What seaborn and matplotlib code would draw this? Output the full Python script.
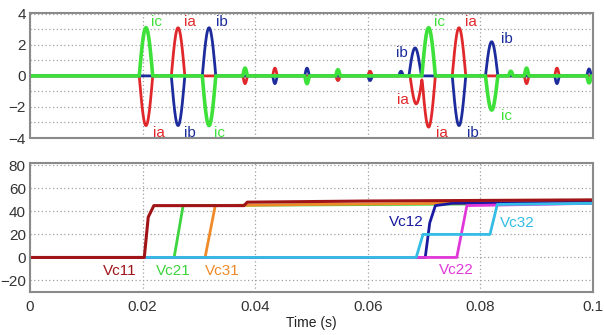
import numpy as np
import pandas as pd
import matplotlib
matplotlib.use("Agg")
import matplotlib.pyplot as plt
import seaborn as sns

# ---------------- data (time in ms) ----------------
# current pulses: (centre time ms, peak amplitude, half width ms)
ia_events = [(20.6, -3.2, 1.2), (26.3, 3.1, 1.2), (38.2, -0.5, 0.4), (43.5, 0.5, 0.4),
             (54.7, -0.3, 0.4), (60.4, 0.3, 0.4), (68.6, -1.8, 1.1), (70.8, -3.3, 1.2),
             (76.2, 3.1, 1.2), (88.2, -0.5, 0.4), (93.6, 0.5, 0.4)]
ib_events = [(26.3, -3.2, 1.2), (31.8, 3.1, 1.2), (43.5, -0.5, 0.4), (49.2, 0.5, 0.4),
             (60.4, -0.3, 0.4), (65.9, 0.3, 0.4), (68.4, 1.8, 1.1), (76.2, -3.2, 1.2),
             (82.0, 2.2, 1.1), (93.6, -0.5, 0.4), (99.3, 0.45, 0.4)]
ic_events = [(20.6, 3.1, 1.2), (31.8, -3.2, 1.2), (38.2, 0.5, 0.4), (49.2, -0.5, 0.4),
             (54.7, 0.4, 0.4), (70.8, 3.1, 1.2), (82.0, -2.2, 1.1), (85.4, 0.3, 0.4),
             (88.2, 0.5, 0.4), (99.3, -0.45, 0.4)]

# capacitor voltages: breakpoints (ms, V)
vc11_t = [0, 20.3, 21.0, 22.0, 38.0, 38.6, 60.0, 100.0]
vc11_v = [0, 0, 35, 45, 45, 48, 49, 50]
vc21_t = [0, 25.6, 27.2, 100.0]
vc21_v = [0, 0, 45, 47]
vc31_t = [0, 31.1, 32.9, 50.0, 100.0]
vc31_v = [0, 0, 45, 46, 48]
vc12_t = [0, 70.2, 71.0, 72.0, 75.0, 100.0]
vc12_v = [0, 0, 30, 45, 47, 48]
vc22_t = [0, 75.8, 77.6, 100.0]
vc22_v = [0, 0, 45, 47]
vc32_t = [20.3, 68.6, 69.8, 81.7, 83.0, 100.0]
vc32_v = [0, 0, 20, 20, 46, 47]

x_ticks = [0, 0.02, 0.04, 0.06, 0.08, 0.1]
x_ticklabels = ["0", "0.02", "0.04", "0.06", "0.08", "0.1"]

# ---------------- build current waveforms ----------------
t_ms = np.linspace(0, 100, 4001)

def wave(events):
    y = np.zeros_like(t_ms)
    for c, a, w in events:
        m = np.abs(t_ms - c) < w
        y[m] += a * np.cos((t_ms[m] - c) / w * np.pi / 2)
    return y

cur = pd.DataFrame({"t": t_ms / 1000.0,
                    "ia": wave(ia_events), "ib": wave(ib_events), "ic": wave(ic_events)})

sns.set_style("white")
plt.rcParams["font.family"] = ["Liberation Sans", "DejaVu Sans"]

fig = plt.figure(figsize=(6.04, 3.35), dpi=100)
ax1 = fig.add_axes([30 / 604, 1 - 138 / 335, 563 / 604, 125 / 335])
ax2 = fig.add_axes([30 / 604, 1 - 292 / 335, 563 / 604, 129 / 335])

RED, BLUE, GREEN = "#e0282c", "#1c2c9c", "#3ee03a"
lw = 2.0
sns.lineplot(data=cur, x="t", y="ia", ax=ax1, color=RED, lw=lw)
sns.lineplot(data=cur, x="t", y="ib", ax=ax1, color=BLUE, lw=lw)
sns.lineplot(data=cur, x="t", y="ic", ax=ax1, color=GREEN, lw=2.6)

cur_labels = [("ic", 22.4, 3.5, GREEN), ("ia", 28.4, 3.5, RED), ("ib", 34.1, 3.5, BLUE),
              ("ia", 22.9, -3.7, RED), ("ib", 28.4, -3.7, BLUE), ("ic", 33.6, -3.7, GREEN),
              ("ic", 72.8, 3.5, GREEN), ("ia", 78.3, 3.5, RED), ("ib", 66.1, 1.5, BLUE),
              ("ib", 84.7, 2.4, BLUE), ("ia", 66.3, -1.55, RED), ("ia", 73.2, -3.7, RED),
              ("ib", 78.7, -3.7, BLUE), ("ic", 84.7, -2.6, GREEN)]
for s, x, y, c in cur_labels:
    ax1.text(x / 1000, y, s, color=c, fontsize=11, ha="center", va="center")

# voltages
DRED, VGREEN, ORANGE = "#a01418", "#3ed43e", "#f08a28"
DBLUE, MAGENTA, CYAN = "#1a1aa0", "#e038d8", "#33bde6"
vol_series = [(vc21_t, vc21_v, VGREEN, 2.0), (vc31_t, vc31_v, ORANGE, 2.0),
              (vc12_t, vc12_v, DBLUE, 2.0), (vc22_t, vc22_v, MAGENTA, 2.0),
              (vc32_t, vc32_v, CYAN, 2.0), (vc11_t, vc11_v, DRED, 2.2)]
for tt, vv, c, w in vol_series:
    d = pd.DataFrame({"t": np.array(tt) / 1000.0, "v": vv})
    sns.lineplot(data=d, x="t", y="v", ax=ax2, color=c, lw=w)

vol_labels = [("Vc11", 16.0, -11.5, DRED), ("Vc21", 25.5, -11.5, VGREEN), ("Vc31", 34.1, -11.5, ORANGE),
              ("Vc12", 66.9, 31, DBLUE), ("Vc32", 86.5, 30, CYAN), ("Vc22", 75.8, -11, MAGENTA)]
for s, x, y, c in vol_labels:
    ax2.text(x / 1000, y, s, color=c, fontsize=11, ha="center", va="center")

# axes styling
for ax in (ax1, ax2):
    ax.set_xlim(0, 0.1)
    ax.set_xticks(x_ticks)
    ax.set_ylabel("")
    ax.set_xlabel("")
    ax.grid(True, which="both", color="#a0a0a0", linestyle=(0, (1, 2)), lw=0.9)
    for sp in ax.spines.values():
        sp.set_color("#8a8a8a")
        sp.set_linewidth(1.5)
    ax.tick_params(axis="x", length=0, labelsize=11, labelcolor="#333333", pad=6)
    ax.tick_params(axis="y", length=0, labelsize=11, labelcolor="#333333", pad=3)

ax1.set_ylim(-4, 4.05)
ax1.set_yticks([-4, -2, 0, 2, 4])
ax1.set_yticks([-3, -1, 1, 3], minor=True)
ax1.tick_params(which="minor", length=0)
ax1.set_xticklabels([])

ax2.set_ylim(-30, 82)
ax2.set_yticks([-20, 0, 20, 40, 60, 80])
ax2.set_xticklabels(x_ticklabels)
ax2.set_xlabel("Time (s)", fontsize=10, color="#222222", labelpad=1)

fig.savefig("out.png", dpi=100)
